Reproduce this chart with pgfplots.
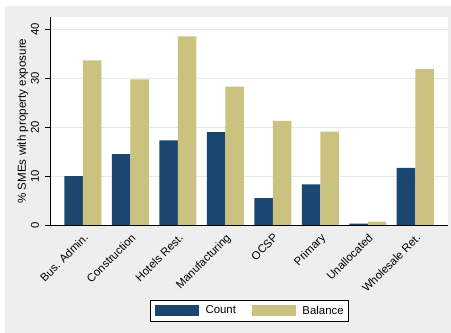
\documentclass[border=0pt]{standalone}
\usepackage{pgfplots}
\pgfplotsset{compat=1.18}
\usepackage{fontspec}
\setmainfont{Liberation Sans}
\definecolor{navyS}{RGB}{26,71,111}
\definecolor{khakiS}{RGB}{203,194,128}
\definecolor{bgS}{RGB}{238,238,238}
\definecolor{gridS}{RGB}{232,232,232}
\begin{document}
\begin{tikzpicture}
\fill[white] (0,0) rectangle (451bp,333bp);
\fill[bgS] (5bp,0) rectangle (451bp,327bp);
\begin{axis}[
  at={(50.7bp,108bp)}, anchor=south west,
  scale only axis, width=397.3bp, height=207.7bp,
  axis background/.style={fill=white},
  axis x line*=bottom, axis y line*=left,
  axis line style={black, line width=0.8bp},
  ybar=0pt, bar width=0.39,
  xmin=-0.68, xmax=7.69, ymin=0, ymax=42.5,
  xtick={0,...,7},
  xticklabels={Bus. Admin., Construction, Hotels Rest., Manufacturing, OCSP, Primary, Unallocated, Wholesale Ret.},
  xtick style={draw=none},
  ytick={0,10,20,30,40},
  tick align=outside, major tick length=5.5bp,
  ytick style={black, line width=0.6bp},
  ymajorgrids, grid style={gridS, line width=0.8bp},
  /pgf/number format/assume math mode=true,
  tick label style={font=\fontsize{11.3bp}{13bp}\selectfont},
  xticklabel style={rotate=45, anchor=north east, inner sep=1.5bp},
  yticklabel style={rotate=90, anchor=south, inner sep=6bp},
  ylabel={\% SMEs with property exposure},
  ylabel style={font=\fontsize{11.6bp}{14bp}\selectfont, inner sep=0pt,
    at={(axis description cs:-0.0559,0.5)}, anchor=south},
  legend columns=2,
  legend style={at={(0.5,-0.361)}, anchor=north, draw=black, line width=0.6bp, fill=white,
    inner xsep=5bp, inner ysep=4.5bp,
    font=\fontsize{11.4bp}{13bp}\selectfont,
    nodes={inner sep=0pt},
    /tikz/every odd column/.append style={column sep=6.5bp},
    /tikz/every even column/.append style={column sep=16bp}},
  legend image code/.code={\fill[#1] (0bp,-5.85bp) rectangle (44bp,5.85bp);},
]
\addplot[fill=navyS, draw=none] coordinates {(0,10.0) (1,14.5) (2,17.3) (3,19.0) (4,5.5) (5,8.3) (6,0.3) (7,11.7)};
\addplot[fill=khakiS, draw=none] coordinates {(0,33.7) (1,29.8) (2,38.6) (3,28.3) (4,21.3) (5,19.1) (6,0.7) (7,31.9)};
\legend{Count, Balance}
\end{axis}
\pgfresetboundingbox
\path[use as bounding box] (0,0) rectangle (451bp,333bp);
\end{tikzpicture}
\end{document}
